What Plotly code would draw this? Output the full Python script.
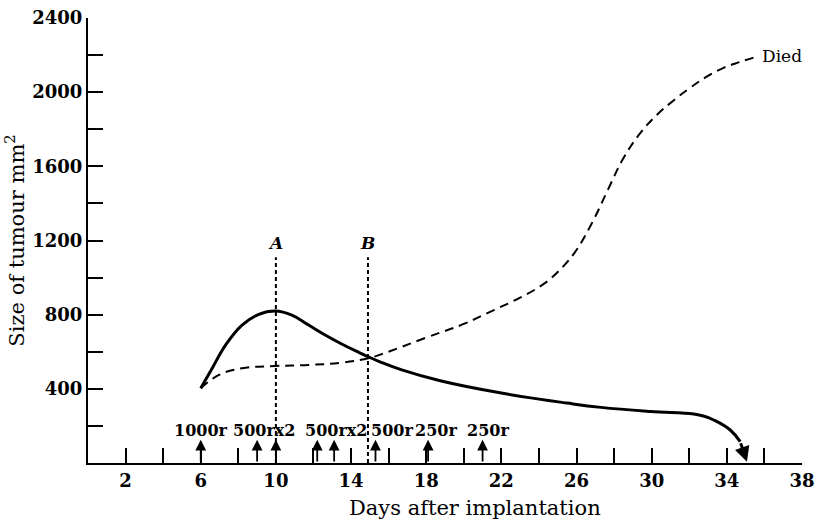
import plotly.graph_objects as go

# ---- data ----
solid_days = [6, 6.61, 7.32, 8.2, 9.09, 9.97, 10.85, 11.74, 12.62, 13.5, 14.39, 14.92, 15.6, 16.7, 18.8,
              22, 25.5, 27.3, 29.94, 32.24, 32.8, 33.3, 34.18, 34.71]
solid_size = [403, 511, 636, 744, 802, 820, 798, 744, 690, 642, 598, 573, 543, 502, 442,
              377, 323, 300, 278, 264, 252, 232, 178, 115]
solid_end = [35.07, 7]

dashed_days = [6, 6.97, 8.2, 9.97, 11.74, 13.5, 14.92, 15.6, 18.1, 20, 21.6, 23, 24.2, 25, 25.9, 26.8,
               27.7, 28.5, 29.4, 30.3, 31.2, 32, 32.9, 33.8, 34.7, 35.7]
dashed_size = [403, 475, 511, 523, 529, 541, 565, 586, 680, 750, 825, 892, 962, 1030, 1135, 1290,
               1480, 1645, 1780, 1880, 1958, 2020, 2082, 2130, 2163, 2195]

marker_days = [10, 14.9]
marker_names = ["A", "B"]
marker_top = 1110

dose_days = [6, 9, 10, 12.2, 13.1, 15.3, 18.1, 21]
dose_arrow_top = 125
dose_labels = ["1000r", "500rx2", "500rx2", "500r", "250r", "250r"]
dose_label_x = [6, 9.4, 13.2, 16.2, 18.5, 21.3]
dose_label_y = 175

x_ticks = list(range(2, 39, 2))
x_labels = [str(v) if (v - 2) % 4 == 0 else "" for v in x_ticks]
y_ticks = list(range(0, 2401, 200))
y_labels = [str(v) if v % 400 == 0 and v > 0 else "" for v in y_ticks]

FONT = "DejaVu Serif"

fig = go.Figure()
fig.add_trace(go.Scatter(x=dashed_days, y=dashed_size, mode="lines",
                         line=dict(color="black", width=2, dash="9px,6px", shape="spline", smoothing=1.2),
                         hoverinfo="skip", showlegend=False))
fig.add_trace(go.Scatter(x=solid_days, y=solid_size, mode="lines",
                         line=dict(color="black", width=3, shape="spline", smoothing=1.2),
                         hoverinfo="skip", showlegend=False))
for d, n in zip(marker_days, marker_names):
    fig.add_trace(go.Scatter(x=[d, d], y=[0, marker_top], mode="lines",
                             line=dict(color="black", width=2, dash="4px,3px"),
                             hoverinfo="skip", showlegend=False))
    fig.add_annotation(x=d, y=marker_top, text="<b><i>%s</i></b>" % n, showarrow=False,
                       yanchor="bottom", yshift=2, font=dict(family=FONT, size=17, color="black"))

# arrow at end of solid curve
fig.add_annotation(x=solid_end[0], y=solid_end[1], ax=solid_days[-1], ay=solid_size[-1],
                   xref="x", yref="y", axref="x", ayref="y", showarrow=True,
                   arrowhead=2, arrowsize=1, arrowwidth=3, arrowcolor="black", standoff=0, text="")

for d in dose_days:
    fig.add_annotation(x=d, y=dose_arrow_top, ax=d, ay=0, xref="x", yref="y", axref="x", ayref="y",
                       showarrow=True, arrowhead=2, arrowsize=1.2, arrowwidth=1.8,
                       arrowcolor="black", standoff=0, text="")
for lx, lt in zip(dose_label_x, dose_labels):
    fig.add_annotation(x=lx, y=dose_label_y, text="<b>%s</b>" % lt, showarrow=False,
                       font=dict(family=FONT, size=16, color="black"))

fig.add_annotation(x=dashed_days[-1], y=dashed_size[-1], text="Died", showarrow=False,
                   xanchor="left", xshift=1, font=dict(family=FONT, size=17, color="black"))

# x-axis title (placed slightly right of centre as in the reference)
fig.add_annotation(x=0.542, y=-0.1, xref="paper", yref="paper", text="Days after implantation",
                   showarrow=False, xanchor="center", yanchor="middle",
                   font=dict(family=FONT, size=21, color="black"))

fig.update_layout(
    width=816, height=520,
    margin=dict(l=88, r=14, t=18, b=57),
    paper_bgcolor="white", plot_bgcolor="white",
    font=dict(family=FONT, color="black"),
    xaxis=dict(range=[0, 38], tickvals=x_ticks, ticktext=x_labels, ticks="inside", ticklen=15,
               tickwidth=1.5, tickcolor="black", showline=True, linecolor="black", linewidth=2,
               showgrid=False, zeroline=False, automargin=False,
               tickfont=dict(family=FONT, size=18, color="black", weight="bold")),
    yaxis=dict(range=[0, 2400], tickvals=y_ticks, ticktext=y_labels, ticks="inside", ticklen=15,
               tickwidth=1.5, tickcolor="black", showline=True, linecolor="black", linewidth=2,
               showgrid=False, zeroline=False, automargin=False,
               tickfont=dict(family=FONT, size=18, color="black", weight="bold"),
               title=dict(text="Size of tumour mm<sup>2</sup>", font=dict(family=FONT, size=21, color="black"),
                          standoff=2)),
)

fig.write_html("out.html", config={"displayModeBar": False},
               post_script="document.body.style.margin='0';document.body.style.overflow='hidden';")
